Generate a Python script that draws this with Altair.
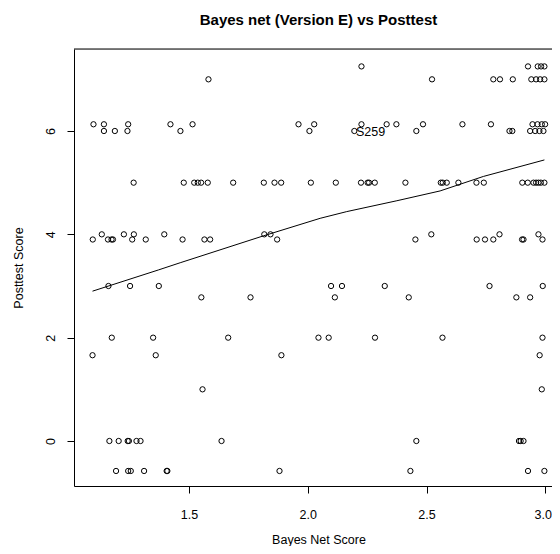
import altair as alt
import pandas as pd

# Bayes net score (x) and posttest score (y)
bayes_net_score = [
    # posttest ~7.25
    2.226, 2.927, 2.968, 2.982, 2.996,
    # ~7.0
    1.582, 2.523, 2.781, 2.809, 2.863, 2.941, 2.961, 2.978, 2.996,
    # ~6.13
    1.098, 1.142, 1.244, 1.422, 1.515, 1.961, 2.027, 2.226, 2.332, 2.373,
    2.485, 2.651, 2.771, 2.946, 2.967, 2.985, 2.999,
    # ~6.0
    1.142, 1.188, 1.241, 1.464, 2.007, 2.196, 2.457, 2.849, 2.861, 2.936,
    2.957, 2.975, 2.992,
    # ~5.0
    1.267, 1.478, 1.522, 1.537, 1.551, 1.579, 1.686, 1.815, 1.860, 1.888,
    2.013, 2.118, 2.224, 2.252, 2.258, 2.282, 2.411, 2.560, 2.568, 2.585,
    2.634, 2.710, 2.741, 2.903, 2.926, 2.950, 2.961, 2.971, 2.981, 2.996,
    # ~4.0
    1.133, 1.226, 1.268, 1.396, 1.817, 1.843, 2.520, 2.807, 2.971,
    # ~3.9
    1.095, 1.159, 1.174, 1.180, 1.261, 1.318, 1.473, 1.565, 1.589, 1.871,
    2.453, 2.711, 2.746, 2.781, 2.902, 2.908, 2.988,
    # ~3.0
    1.161, 1.252, 1.373, 2.098, 2.144, 2.324, 2.765, 2.989,
    # ~2.78
    1.552, 1.759, 2.114, 2.425, 2.878, 2.936,
    # ~2.0
    1.175, 1.349, 1.665, 2.045, 2.088, 2.283, 2.567, 2.988,
    # ~1.66
    1.094, 1.360, 1.889, 2.976,
    # ~1.0
    1.557, 2.985,
    # ~0
    1.165, 1.204, 1.242, 1.247, 1.279, 1.296, 1.637, 2.457, 2.889, 2.896, 2.908,
    # ~-0.58
    1.193, 1.244, 1.255, 1.311, 1.406, 1.409, 1.881, 2.432, 2.927, 2.996,
]

posttest_score = (
    [7.25] * 5 + [7.0] * 9 + [6.13] * 17 + [6.0] * 13 + [5.0] * 30
    + [4.0] * 9 + [3.9] * 17 + [3.0] * 8 + [2.78] * 6 + [2.0] * 8
    + [1.66] * 4 + [1.0] * 2 + [0.0] * 11 + [-0.58] * 10
)

# smooth (lowess) curve
smooth_x = [1.094, 1.371, 1.463, 1.813, 2.052, 2.164, 2.375, 2.557, 2.739, 2.996]
smooth_y = [2.90, 3.31, 3.45, 3.97, 4.31, 4.44, 4.65, 4.84, 5.12, 5.44]

# annotation
label_x = [2.264]
label_y = [5.975]
label_text = ["S259"]

x_ticks = [1.5, 2.0, 2.5, 3.0]
y_ticks = [0, 2, 4, 6]

FONT = "Liberation Sans"
W, H = 478, 437

pts = pd.DataFrame({"x": bayes_net_score, "y": posttest_score})
smooth = pd.DataFrame({"x": smooth_x, "y": smooth_y})
lab = pd.DataFrame({"x": label_x, "y": label_y, "t": label_text})

xscale = alt.Scale(domain=[1.016, 3.028], nice=False, zero=False)
yscale = alt.Scale(domain=[-0.871, 7.587], nice=False, zero=False)

xaxis = alt.Axis(
    values=x_ticks, format=".1f", grid=False, tickSize=7, tickColor="black",
    domainColor="black", labelColor="black", labelFont=FONT, labelFontSize=12.5,
    labelPadding=15, labelBaseline="top", title="Bayes Net Score",
    titleFont=FONT, titleFontSize=12.5, titleFontWeight="normal", titleColor="black",
    titleX=244.5, titleY=53, titleBaseline="middle", titleAlign="center",
    labelFlush=10, labelFlushOffset=6,
)
yaxis = alt.Axis(
    values=y_ticks, format="d", grid=False, tickSize=7, tickColor="black",
    domainColor="black", labelColor="black", labelFont=FONT, labelFontSize=12.5,
    labelAngle=270, labelAlign="center", labelBaseline="bottom", labelPadding=10,
    title="Posttest Score", titleFont=FONT, titleFontSize=12.5,
    titleFontWeight="normal", titleColor="black", titleAngle=270,
    titleX=-56, titleY=218.5, titleBaseline="middle", titleAlign="center",
    labelFlush=False,
)

points = alt.Chart(pts).mark_point(
    shape="circle", filled=False, color="black", size=28, strokeWidth=1, opacity=1
).encode(
    x=alt.X("x:Q", scale=xscale, axis=xaxis),
    y=alt.Y("y:Q", scale=yscale, axis=yaxis),
)

line = alt.Chart(smooth).mark_line(color="black", strokeWidth=1).encode(
    x=alt.X("x:Q", scale=xscale),
    y=alt.Y("y:Q", scale=yscale),
)

text = alt.Chart(lab).mark_text(
    font=FONT, fontSize=12.5, color="black", align="center", baseline="middle"
).encode(
    x=alt.X("x:Q", scale=xscale),
    y=alt.Y("y:Q", scale=yscale),
    text="t:N",
)

top_border = alt.Chart(pd.DataFrame({"a": [0]})).mark_rule(
    color="black", strokeWidth=1
).encode(x=alt.value(0), x2=alt.value(W), y=alt.value(0))

chart = alt.layer(points, line, text, top_border).properties(
    width=W,
    height=H,
    autosize=alt.AutoSizeParams(type="none"),
    padding={"left": 66, "top": 41, "right": 0, "bottom": 60},
    title=alt.TitleParams(
        "Bayes net (Version E) vs Posttest", font=FONT, fontSize=15,
        fontWeight="bold", color="black", anchor="middle", offset=9,
        baseline="alphabetic", dx=5.5, frame="group",
    ),
).configure_view(stroke="transparent").configure(background="white")

chart.save("out.html", embed_options={"renderer": "svg", "actions": False})
